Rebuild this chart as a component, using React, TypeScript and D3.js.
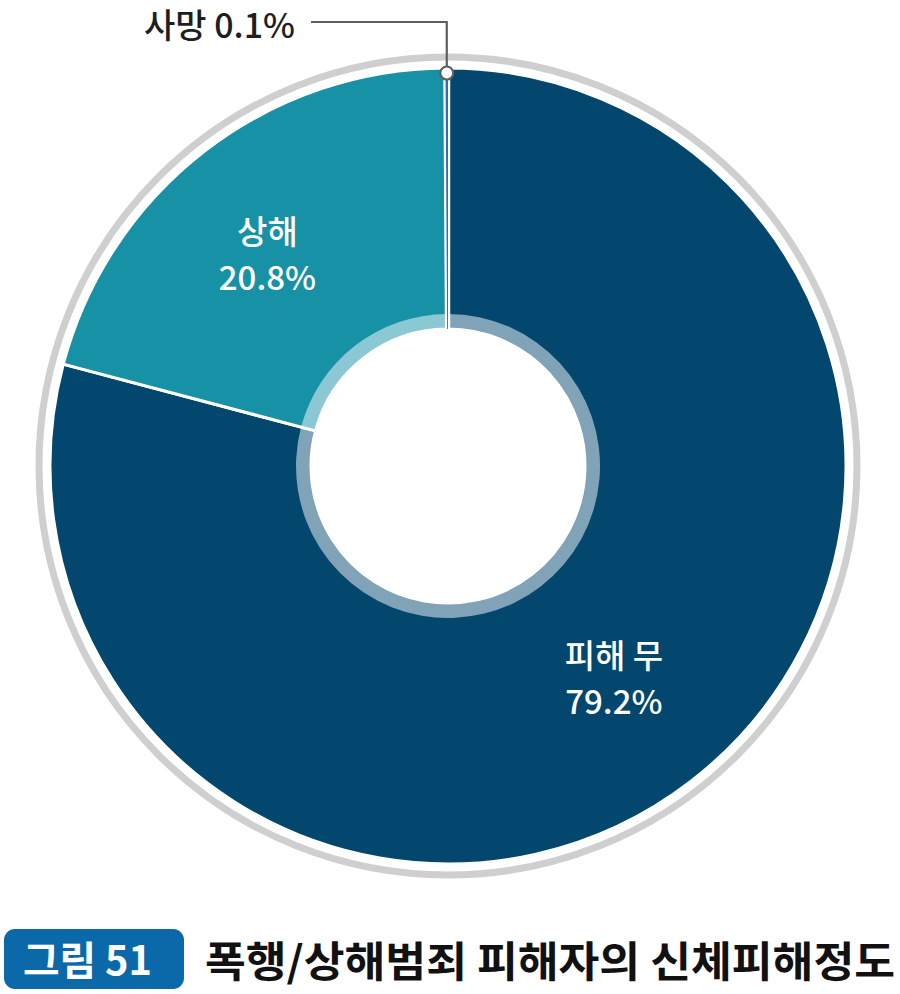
import React, { useEffect } from "react";
import * as d3 from "d3";

const categories = ["피해 무", "상해", "사망"];
const values = [79.2, 20.8, 0.1];
const valueLabels = ["79.2%", "20.8%", "0.1%"];
const sliceColors = ["#03476e", "#1791a6", "#2f6fb5"];
const figureTag = "그림 51";
const figureTitle = "폭행/상해범죄 피해자의 신체피해정도";

const W = 900;
const H = 994;
const FONT = "'Noto Sans CJK KR', 'Noto Sans', sans-serif";

export default function App() {
  useEffect(() => {
    document.body.style.margin = "0";
  }, []);

  const cx = 448;
  const cy = 466;
  const outerR = 398;
  const innerR = 137;
  const bandR = 152;
  const ringR = 409;

  const data = categories.map((c, i) => ({ name: c, value: values[i], label: valueLabels[i], color: sliceColors[i] }));
  const pie = d3.pie<any>().sort(null).value((d: any) => d.value).startAngle(0).endAngle(2 * Math.PI);
  const arcs = pie(data);
  const arcGen = d3.arc<any>().innerRadius(innerR).outerRadius(outerR);
  const bandGen = d3.arc<any>().innerRadius(innerR).outerRadius(bandR);
  const labelArc = d3.arc<any>().innerRadius(272).outerRadius(272);

  const labelShift = [
    [0, 0],
    [-14, 7],
  ];

  const death = arcs[2];
  const deathAngle = (death.startAngle + death.endAngle) / 2;
  const markerR = 393;
  const mx = cx + markerR * Math.sin(deathAngle);
  const my = cy - markerR * Math.cos(deathAngle);
  const leaderY = 22;
  const leaderX2 = 311;

  return (
    <svg width={W} height={H} style={{ display: "block", position: "absolute", left: 0, top: 0, background: "#fff" }}>
      <circle cx={cx} cy={cy} r={ringR} fill="none" stroke="#cfcfcf" strokeWidth={7} />
      <g transform={`translate(${cx},${cy})`}>
        {arcs.slice(0, 2).map((a, i) => (
          <path key={i} d={arcGen(a) as string} fill={a.data.color} stroke="#fff" strokeWidth={3} />
        ))}
        {arcs.slice(0, 2).map((a, i) => (
          <path key={"b" + i} d={bandGen(a) as string} fill="#fff" fillOpacity={0.5} stroke="none" />
        ))}
        <path d={arcGen(death) as string} fill="#fff" stroke="#fff" strokeWidth={4.5} />
        <path d={arcGen(death) as string} fill={death.data.color} stroke="none" />
        {arcs.slice(0, 2).map((a, i) => {
          const [lx, ly] = labelArc.centroid(a);
          const x = lx + labelShift[i][0];
          const y = ly + labelShift[i][1];
          return (
            <g key={"l" + i} fill="#fff" fontFamily={FONT} fontSize={33} fontWeight={500} textAnchor="middle">
              <text x={x} y={y - 14}>{a.data.name}</text>
              <text x={x} y={y + 32}>{a.data.label}</text>
            </g>
          );
        })}
      </g>
      <polyline
        points={`${leaderX2},${leaderY} ${mx},${leaderY} ${mx},${my}`}
        fill="none"
        stroke="#5f5f5f"
        strokeWidth={2.2}
      />
      <circle cx={mx} cy={my} r={6.5} fill="#fff" stroke="#5f5f5f" strokeWidth={2.2} />
      <text x={295} y={38} textAnchor="end" fontFamily={FONT} fontSize={34} fontWeight={500} fill="#1e1e1e">
        {`${death.data.name} ${death.data.label}`}
      </text>

      <rect x={4} y={929} width={180} height={60} rx={11} fill="#0b69a9" />
      <text x={23} y={975} fontFamily={FONT} fontSize={40} fontWeight={700} fill="#fff" textLength={129} lengthAdjust="spacingAndGlyphs">
        {figureTag}
      </text>
      <text x={205} y={977} fontFamily={FONT} fontSize={42} fontWeight={700} fill="#111" textLength={690} lengthAdjust="spacingAndGlyphs">
        {figureTitle}
      </text>
    </svg>
  );
}
